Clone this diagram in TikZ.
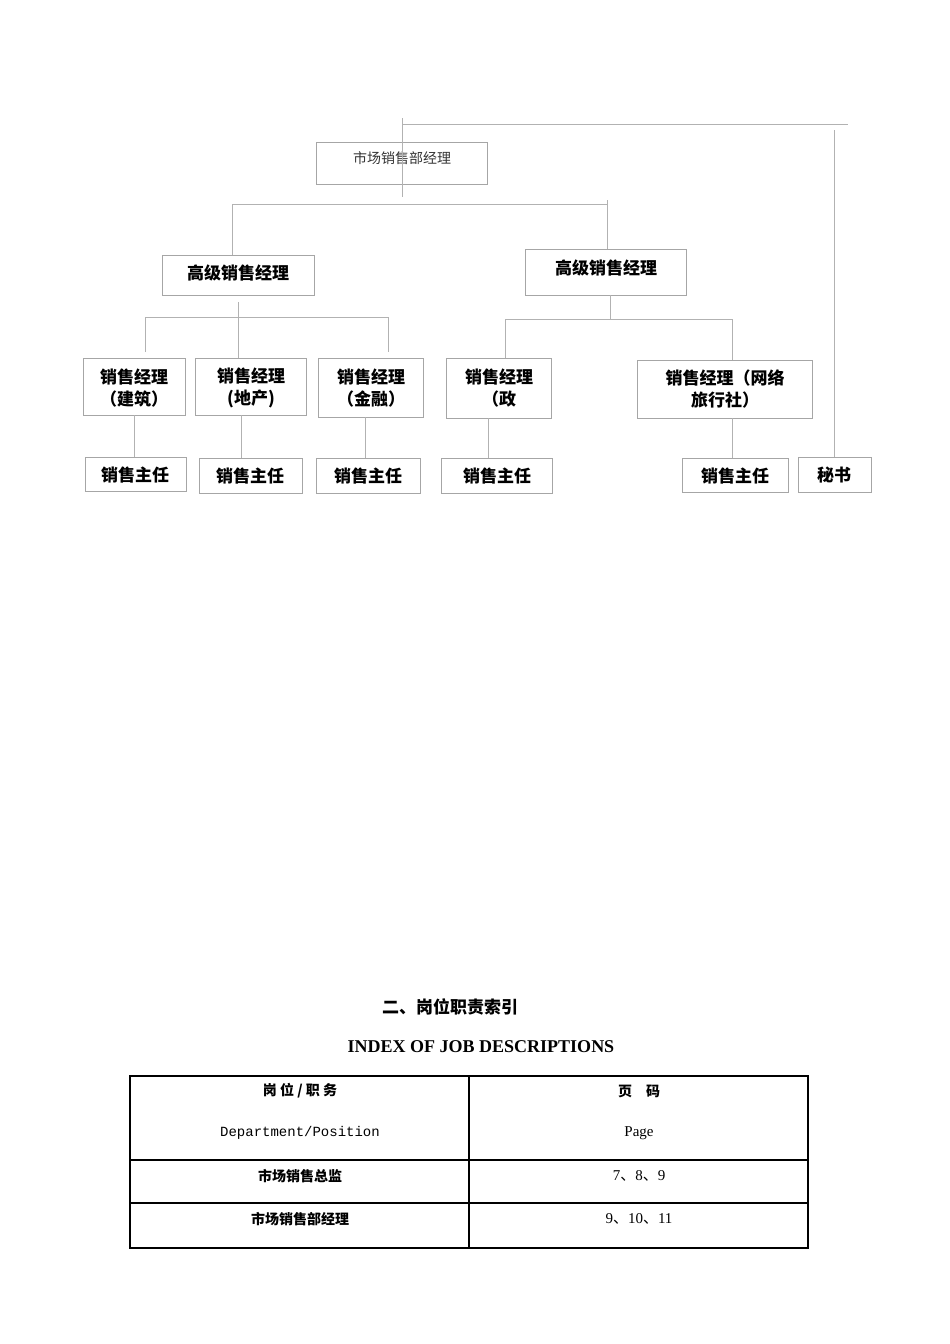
\documentclass[tikz,border=0pt]{standalone}
\usepackage{fontspec}
\setmainfont{Liberation Serif}
\newfontfamily\cjk{Noto Sans CJK SC}
\newfontfamily\cjkb{Noto Sans CJK SC}[BoldFont={* Bold}]
\newfontfamily\monof{Liberation Mono}
\begin{document}
\begin{tikzpicture}[x=1pt,y=-1pt,
  bx/.style={draw=black!35,line width=0.8pt},
  ln/.style={draw=black!30,line width=0.8pt},
  lab/.style={font=\cjk\bfseries\fontsize{17}{22}\selectfont,align=center},
  tb/.style={line width=2pt}]
\useasboundingbox (0,0) rectangle (950,1344);
% boxes
\draw[bx] (316,142) rectangle (487,184);
\node[font=\cjk\fontsize{14}{18}\selectfont,text=black!80] (top) at (402,158) {市场销售部经理};
\draw[bx] (162,255) rectangle (314,295); \node[lab] (s1) at (238,273) {高级销售经理};
\draw[bx] (525,249) rectangle (686,295); \node[lab] (s2) at (606,268) {高级销售经理};
\draw[bx] (83,358) rectangle (185,415); \node[lab] (m1) at (134,388) {销售经理\\（建筑）};
\draw[bx] (195,358) rectangle (306,415); \node[lab] (m2) at (251,388) {销售经理\\(地产)};
\draw[bx] (318,358) rectangle (423,417); \node[lab] (m3) at (371,388) {销售经理\\（金融）};
\draw[bx] (446,358) rectangle (551,418); \node[lab] (m4) at (499,388) {销售经理\\（政};
\draw[bx] (637,360) rectangle (812,418); \node[lab] (m5) at (725,389) {销售经理（网络\\旅行社）};
\draw[bx] (85,457) rectangle (186,491); \node[lab] (z1) at (135,475) {销售主任};
\draw[bx] (199,458) rectangle (302,493); \node[lab] (z2) at (250,476) {销售主任};
\draw[bx] (316,458) rectangle (420,493); \node[lab] (z3) at (368,476) {销售主任};
\draw[bx] (441,458) rectangle (552,493); \node[lab] (z4) at (497,476) {销售主任};
\draw[bx] (682,458) rectangle (788,492); \node[lab] (z5) at (735,476) {销售主任};
\draw[bx] (798,457) rectangle (871,492); \node[lab] (sec) at (834,475) {秘书};
% lines
\draw[ln] (402,118) -- (402,197);
\draw[ln] (402,124) -- (848,124);
\draw[ln] (834,130) -- (834,457);
\draw[ln] (232,255) -- (232,204) -- (607,204);
\draw[ln] (607,200) -- (607,249);
\draw[ln] (238,302) -- (238,358);
\draw[ln] (145,352) -- (145,317) -- (388,317) -- (388,352);
\draw[ln] (610,295) -- (610,319);
\draw[ln] (505,358) -- (505,319) -- (732,319) -- (732,360);
\draw[ln] (134,415) -- (134,457);
\draw[ln] (241,415) -- (241,458);
\draw[ln] (365,417) -- (365,458);
\draw[ln] (488,418) -- (488,458);
\draw[ln] (732,418) -- (732,458);
% titles
\node[font=\cjk\bfseries\fontsize{17}{20}\selectfont] (t1) at (450,1007) {二、岗位职责索引};
\node[font=\bfseries\fontsize{18}{20}\selectfont] (t2) at (481,1047) {INDEX OF JOB DESCRIPTIONS};
% table
\draw[tb] (130,1076) rectangle (808,1248);
\draw[tb] (469,1076) -- (469,1248);
\draw[tb] (130,1160) -- (808,1160);
\draw[tb] (130,1203) -- (808,1203);
\node[font=\cjk\bfseries\fontsize{14}{16}\selectfont] (h1) at (300,1091) {岗\ 位\ /\ 职\ 务};
\node[font=\monof\fontsize{14}{16}\selectfont] (h2) at (300,1133) {Department/Position};
\node[font=\cjk\bfseries\fontsize{14}{16}\selectfont] (h3) at (639,1091) {页\quad 码};
\node[font=\fontsize{15}{16}\selectfont] (h4) at (639,1133) {Page};
\node[font=\cjk\bfseries\fontsize{14}{16}\selectfont] (r1) at (300,1176) {市场销售总监};
\node[font=\fontsize{15}{16}\selectfont] (r2) at (639,1176) {7{\cjk、}8{\cjk、}9};
\node[font=\cjk\bfseries\fontsize{14}{16}\selectfont] (r3) at (300,1219) {市场销售部经理};
\node[font=\fontsize{15}{16}\selectfont] (r4) at (639,1219) {9{\cjk、}10{\cjk、}11};
\end{tikzpicture}
\end{document}
